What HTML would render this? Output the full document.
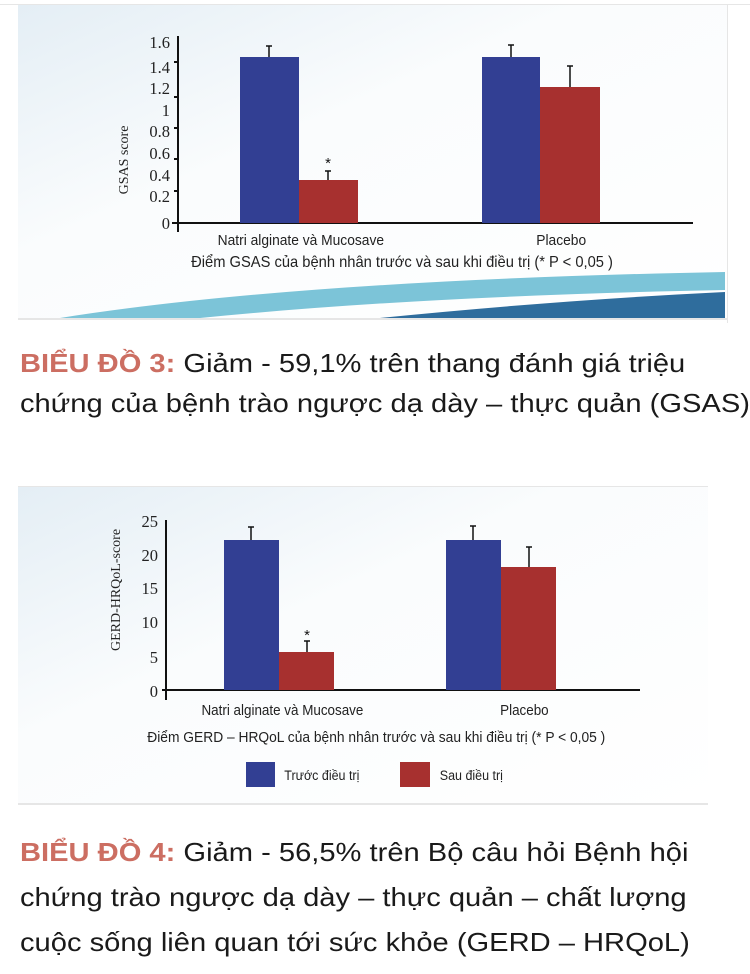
<!DOCTYPE html>
<html><head><meta charset="utf-8"><style>
body{margin:0;background:#fff;width:750px;height:974px;overflow:hidden;position:relative;font-family:"Liberation Sans",sans-serif}
.h{position:absolute;left:20px;font-size:26px;color:#1a1a1a;line-height:40px;white-space:nowrap;transform:scaleX(1.12);transform-origin:0 0}
.h b{color:#cc6e62}
</style></head><body>
<svg width="750" height="974" style="position:absolute;left:0;top:0">
<defs>
<linearGradient id="bg" x1="0" y1="0" x2="1" y2="1"><stop offset="0" stop-color="#e4eef5"/><stop offset="0.4" stop-color="#fafcfd"/><stop offset="1" stop-color="#ffffff"/></linearGradient>
</defs>
<rect x="0" y="4" width="750" height="1" fill="#e6e6e6"/>
<rect x="18" y="5" width="709" height="313" fill="url(#bg)"/>
<rect x="727" y="5" width="1" height="318" fill="#e6e6e6"/>
<rect x="18" y="318" width="710" height="2" fill="#e6e6e6"/>
<path d="M60 318 Q300 280 725 272 L725 290 Q420 296 200 318 Z" fill="#7cc4d8"/>
<path d="M380 318 Q560 300 725 292 L725 318 Z" fill="#2f6d9d"/>
<g font-family="Liberation Serif,serif" font-size="16.5" fill="#222" text-anchor="end">
<text x="170" y="48">1.6</text><text x="170" y="73">1.4</text><text x="170" y="94">1.2</text><text x="170" y="116">1</text><text x="170" y="137">0.8</text><text x="170" y="159">0.6</text><text x="170" y="181">0.4</text><text x="170" y="202">0.2</text><text x="170" y="229">0</text>
</g>
<text transform="translate(128,160) rotate(-90)" font-family="Liberation Serif,serif" font-size="14" fill="#222" text-anchor="middle">GSAS score</text>
<g stroke="#111" stroke-width="2"><line x1="178" y1="36" x2="178" y2="232"/><line x1="172" y1="223" x2="693" y2="223"/>
<line x1="174" y1="62" x2="178" y2="62"/><line x1="174" y1="97" x2="178" y2="97"/><line x1="174" y1="128" x2="178" y2="128"/><line x1="174" y1="159" x2="178" y2="159"/><line x1="174" y1="191" x2="178" y2="191"/></g>
<rect x="240" y="57" width="59" height="166" fill="#323f93"/>
<rect x="299" y="180" width="59" height="43" fill="#a7302f"/>
<rect x="482" y="57" width="58" height="166" fill="#323f93"/>
<rect x="540" y="87" width="60" height="136" fill="#a7302f"/>
<g stroke="#111" stroke-width="1.5"><path d="M269 46V57M266 46H272M328 171V180M325 171H331M511 45V57M508 45H514M570 66V87M567 66H573"/></g>
<text x="328" y="168" font-size="15" text-anchor="middle" fill="#111">*</text>
<g fill="#222" text-anchor="middle" transform="scale(0.92,1)">
<text x="327" y="245" font-size="15">Natri alginate và Mucosave</text><text x="610" y="245" font-size="15">Placebo</text>
<text x="437" y="267" font-size="16">Điểm GSAS của bệnh nhân trước và sau khi điều trị (* P &lt; 0,05 )</text></g>

<rect x="18" y="487" width="690" height="316" fill="url(#bg)"/>
<rect x="18" y="486" width="690" height="1" fill="#e6e6e6"/>
<rect x="18" y="803" width="690" height="2" fill="#e6e6e6"/>
<g font-family="Liberation Serif,serif" font-size="16.5" fill="#222" text-anchor="end">
<text x="158" y="527">25</text><text x="158" y="561">20</text><text x="158" y="594">15</text><text x="158" y="628">10</text><text x="158" y="663">5</text><text x="158" y="697">0</text>
</g>
<text transform="translate(120,590) rotate(-90)" font-family="Liberation Serif,serif" font-size="14" fill="#222" text-anchor="middle">GERD-HRQoL-score</text>
<g stroke="#111" stroke-width="2"><line x1="166" y1="520" x2="166" y2="700"/><line x1="162" y1="690" x2="640" y2="690"/></g>
<rect x="224" y="540" width="55" height="150" fill="#323f93"/>
<rect x="279" y="652" width="55" height="38" fill="#a7302f"/>
<rect x="446" y="540" width="55" height="150" fill="#323f93"/>
<rect x="501" y="567" width="55" height="123" fill="#a7302f"/>
<g stroke="#111" stroke-width="1.5"><path d="M251 527V540M248 527H254M307 641V652M304 641H310M473 526V540M470 526H476M529 547V567M526 547H532"/></g>
<text x="307" y="640" font-size="15" text-anchor="middle" fill="#111">*</text>
<g fill="#222" text-anchor="middle" transform="scale(0.92,1)">
<text x="307" y="715" font-size="14.6">Natri alginate và Mucosave</text><text x="570" y="715" font-size="14.6">Placebo</text>
<text x="409" y="742" font-size="15">Điểm GERD – HRQoL của bệnh nhân trước và sau khi điều trị (* P &lt; 0,05 )</text></g>
<rect x="246" y="762" width="29" height="25" fill="#323f93"/>
<rect x="400" y="762" width="30" height="25" fill="#a7302f"/>
<g font-size="13.6" fill="#222" transform="scale(0.92,1)"><text x="309" y="780">Trước điều trị</text><text x="478" y="780">Sau điều trị</text></g>
</svg>
<div class="h" style="top:343px"><b>BIỂU ĐỒ 3:</b> Giảm - 59,1% trên thang đánh giá triệu<br>chứng của bệnh trào ngược dạ dày – thực quản (GSAS)</div>
<div class="h" style="top:830px;line-height:45px"><b>BIỂU ĐỒ 4:</b> Giảm - 56,5% trên Bộ câu hỏi Bệnh hội<br>chứng trào ngược dạ dày – thực quản – chất lượng<br>cuộc sống liên quan tới sức khỏe (GERD – HRQoL)</div>
</body></html>
